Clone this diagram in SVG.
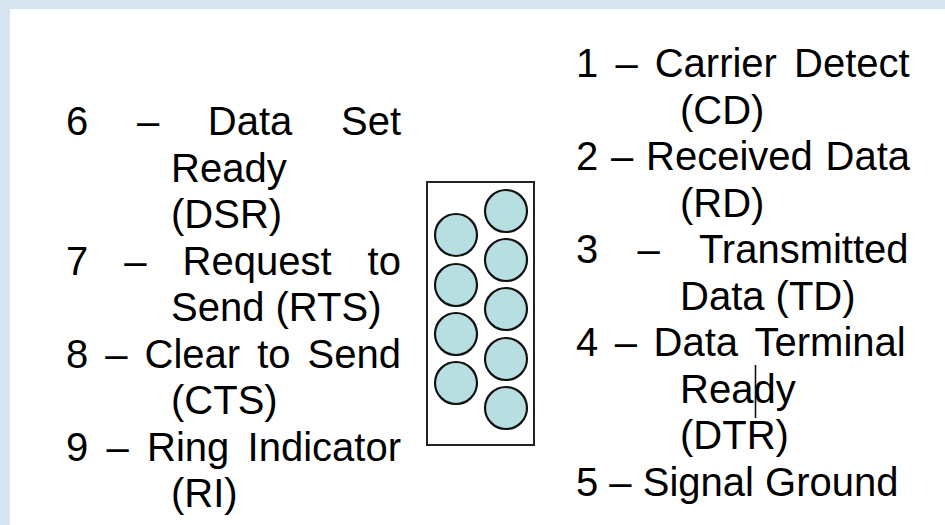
<svg xmlns="http://www.w3.org/2000/svg" width="945" height="525" viewBox="0 0 945 525">
<style>
  .t { font-family: "Liberation Sans", Arial, sans-serif; font-size: 40px; fill: #000; }
  .pin { fill: #B7DEE0; stroke: #111; stroke-width: 2.2; }
  .body { fill: #fff; stroke: #222; stroke-width: 2; }
</style>
<rect x="0" y="0" width="945" height="525" fill="#D7E5F1"/>
<rect x="10" y="9" width="935" height="516" fill="#FFFFFF"/>

<g id="connectors"/>

<g id="db9-connector">
  <rect class="body" x="427" y="182" width="107" height="263"/>
  <circle class="pin" cx="506" cy="211" r="21"/>
  <circle class="pin" cx="506" cy="260" r="21"/>
  <circle class="pin" cx="506" cy="309" r="21"/>
  <circle class="pin" cx="506" cy="359" r="21"/>
  <circle class="pin" cx="506" cy="408" r="21"/>
  <circle class="pin" cx="456" cy="235" r="21"/>
  <circle class="pin" cx="456" cy="285" r="21"/>
  <circle class="pin" cx="456" cy="334" r="21"/>
  <circle class="pin" cx="456" cy="383" r="21"/>
</g>

<g id="pin6">
  <text class="t" y="135"><tspan x="66">6</tspan><tspan x="136.9">–</tspan><tspan x="207.8">Data</tspan><tspan x="341">Set</tspan></text>
  <text class="t" x="171" y="181.5">Ready</text>
  <text class="t" x="171" y="228">(DSR)</text>
</g>
<g id="pin7">
  <text class="t" y="274.5"><tspan x="66">7</tspan><tspan x="124.3">–</tspan><tspan x="182.6">Request</tspan><tspan x="367.6">to</tspan></text>
  <text class="t" x="171" y="321">Send (RTS)</text>
</g>
<g id="pin8">
  <text class="t" y="367.5"><tspan x="66">8</tspan><tspan x="105.3">–</tspan><tspan x="144.6">Clear</tspan><tspan x="257.2">to</tspan><tspan x="307.6">Send</tspan></text>
  <text class="t" x="171" y="414">(CTS)</text>
</g>
<g id="pin9">
  <text class="t" y="460.5"><tspan x="66">9</tspan><tspan x="106.5">–</tspan><tspan x="147.1">Ring</tspan><tspan x="247.6">Indicator</tspan></text>
  <text class="t" x="171" y="507">(RI)</text>
</g>

<g id="pin1">
  <text class="t" y="77"><tspan x="576">1</tspan><tspan x="615.5">–</tspan><tspan x="654.7">Carrier</tspan><tspan x="794.1">Detect</tspan></text>
  <text class="t" x="680" y="123.5">(CD)</text>
</g>
<g id="pin2">
  <text class="t" y="170"><tspan x="576">2</tspan><tspan x="611">–</tspan><tspan x="646">Received</tspan><tspan x="825.5">Data</tspan></text>
  <text class="t" x="680" y="216.5">(RD)</text>
</g>
<g id="pin3">
  <text class="t" y="263"><tspan x="576">3</tspan><tspan x="637.4">–</tspan><tspan x="698.9">Transmitted</tspan></text>
  <text class="t" x="680" y="309.5">Data (TD)</text>
</g>
<g id="pin4">
  <text class="t" y="356"><tspan x="576">4</tspan><tspan x="614.7">–</tspan><tspan x="653.5">Data</tspan><tspan x="754.5">Terminal</tspan></text>
  <text class="t" x="680" y="402.5">Ready</text>
  <text class="t" x="680" y="449">(DTR)</text>
  <line x1="755.5" y1="365" x2="755.5" y2="418" stroke="#111" stroke-width="1.6"/>
</g>
<g id="pin5">
  <text class="t" x="576" y="495.5">5 – Signal Ground</text>
</g>
</svg>
